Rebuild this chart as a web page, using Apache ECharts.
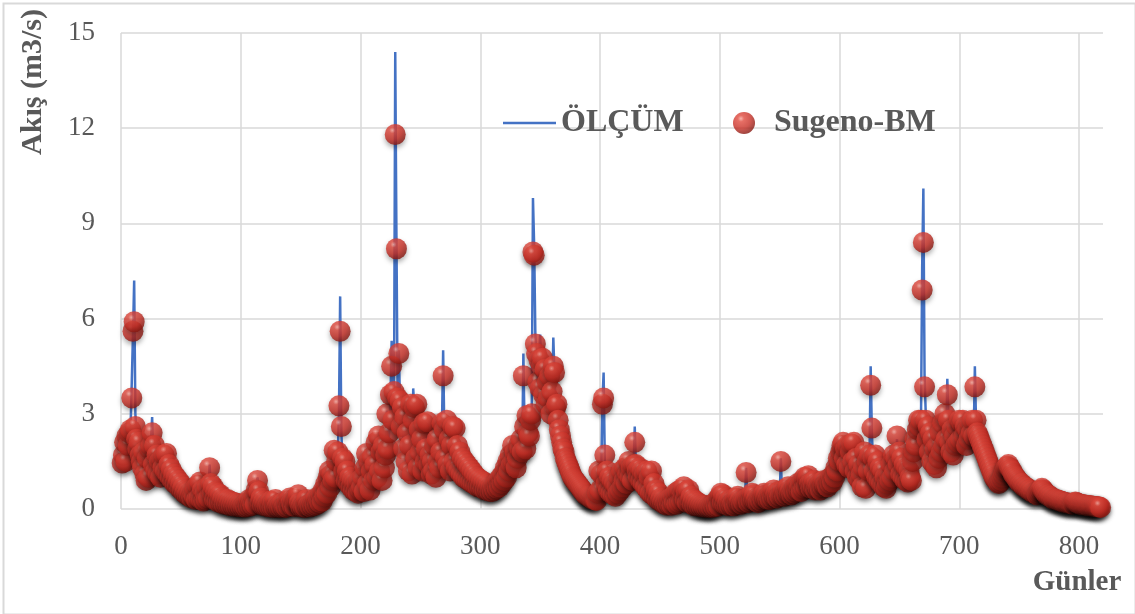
<!DOCTYPE html>
<html>
<head>
<meta charset="utf-8">
<title>Akış - ÖLÇÜM / Sugeno-BM</title>
<script src="https://cdn.jsdelivr.net/npm/echarts@6/dist/echarts.min.js"></script>
<style>
  html, body { margin: 0; padding: 0; background: #ffffff; }
  #chart { width: 1135px; height: 614px; }
</style>
</head>
<body>
<div id="chart"></div>
<script>
// Daily flow (m3/s), day 1 .. 818
const seriesNames = ['ÖLÇÜM', 'Sugeno-BM'];
const xTicks = [0, 100, 200, 300, 400, 500, 600, 700, 800];
const yTicks = [0, 3, 6, 9, 12, 15];

// Measured flow
const olcum = [
  1.5, 1.6, 2.2, 1.6, 2.2, 2.1, 2.3, 2.6, 4.0, 5.5, 7.2, 3.0, 2.3, 1.8, 2.0, 1.8, 1.4, 1.4, 1.7, 1.2,
  1.0, 1.5, 1.1, 1.8, 2.1, 2.9, 1.5, 1.9, 1.3, 1.6, 1.2, 1.4, 1.1, 1.5, 1.3, 1.6, 1.2, 1.7, 1.1, 1.3,
  1.0, 1.2, 0.9, 1.0, 0.85, 0.95, 0.75, 0.85, 0.65, 0.75, 0.6, 0.65, 0.5, 0.55, 0.45, 0.5, 0.4, 0.45, 0.35, 0.45,
  0.4, 0.6, 0.3, 0.7, 0.35, 0.8, 0.3, 0.55, 0.25, 0.45, 0.3, 0.65, 0.4, 1.4, 0.7, 0.45, 0.65, 0.3, 0.5, 0.25,
  0.45, 0.2, 0.4, 0.2, 0.3, 0.15, 0.28, 0.15, 0.27, 0.12, 0.22, 0.1, 0.2, 0.1, 0.18, 0.08, 0.16, 0.08, 0.14, 0.07,
  0.14, 0.07, 0.11, 0.06, 0.18, 0.08, 0.28, 0.1, 0.22, 0.12, 0.38, 0.15, 0.65, 1.0, 0.5, 0.2, 0.32, 0.12, 0.22, 0.1,
  0.18, 0.08, 0.14, 0.07, 0.22, 0.06, 0.18, 0.05, 0.28, 0.07, 0.14, 0.05, 0.11, 0.05, 0.18, 0.06, 0.1, 0.05, 0.22, 0.08,
  0.32, 0.2, 0.1, 0.28, 0.08, 0.22, 0.3, 0.5, 0.2, 0.07, 0.14, 0.06, 0.11, 0.05, 0.28, 0.1, 0.14, 0.07, 0.18, 0.1,
  0.22, 0.12, 0.32, 0.15, 0.28, 0.2, 0.42, 0.25, 0.55, 0.4, 0.75, 0.5, 0.95, 1.25, 0.7, 1.0, 0.9, 1.9, 1.0, 1.4,
  1.7, 3.0, 6.7, 2.4, 1.5, 1.2, 1.4, 0.9, 1.1, 0.8, 0.95, 0.7, 0.85, 0.6, 0.8, 0.55, 0.75, 0.5, 0.85, 0.6,
  0.7, 0.95, 0.55, 1.25, 1.8, 0.8, 1.45, 0.6, 1.15, 1.7, 0.9, 1.35, 2.2, 1.0, 2.4, 1.2, 1.7, 0.9, 2.1, 1.3,
  1.6, 3.1, 1.8, 2.5, 3.5, 5.3, 2.7, 3.6, 14.4, 8.6, 3.4, 5.0, 3.3, 2.5, 3.1, 1.8, 2.8, 1.5, 2.3, 1.2,
  1.9, 3.2, 1.1, 3.8, 3.1, 1.6, 3.2, 1.3, 2.4, 1.8, 2.1, 1.2, 2.6, 1.5, 1.8, 2.7, 1.4, 1.6, 1.1, 1.4,
  1.2, 1.9, 1.0, 2.1, 1.5, 1.3, 1.7, 2.6, 5.0, 2.4, 1.6, 2.7, 1.4, 2.1, 1.2, 1.9, 2.5, 1.5, 2.5, 1.3,
  1.9, 1.2, 1.7, 1.1, 1.55, 1.0, 1.45, 0.95, 1.35, 0.9, 1.25, 0.85, 1.15, 0.8, 1.05, 0.75, 0.95, 0.7, 0.9, 0.7,
  0.85, 0.65, 0.8, 0.6, 0.75, 0.6, 0.7, 0.55, 0.65, 0.55, 0.7, 0.6, 0.75, 0.65, 0.85, 0.7, 0.95, 0.8, 1.05, 0.9,
  1.25, 1.0, 1.45, 1.2, 1.65, 1.4, 1.9, 1.5, 1.75, 1.3, 1.55, 1.9, 1.85, 2.1, 1.7, 4.9, 2.5, 1.8, 2.9, 2.3,
  2.2, 2.7, 3.1, 9.8, 8.3, 5.5, 4.8, 3.9, 4.6, 5.5, 4.4, 4.6, 3.5, 4.3, 3.2, 3.9, 3.4, 4.1, 2.9, 3.6,
  5.4, 4.2, 3.1, 3.2, 2.7, 2.4, 2.2, 2.0, 1.85, 1.75, 1.55, 1.45, 1.35, 1.25, 1.15, 1.05, 0.95, 0.9, 0.85, 0.8,
  0.75, 0.7, 0.65, 0.6, 0.55, 0.5, 0.47, 0.43, 0.4, 0.38, 0.36, 0.34, 0.32, 0.3, 0.29, 0.27, 0.26, 0.45, 1.1, 0.55,
  1.0, 3.4, 4.3, 1.5, 0.75, 1.1, 0.6, 0.95, 0.5, 0.85, 0.45, 0.75, 0.4, 0.65, 0.5, 0.95, 0.6, 1.1, 0.7, 0.85,
  1.2, 0.8, 1.05, 1.4, 1.0, 1.25, 0.9, 1.35, 2.6, 1.3, 1.15, 1.0, 1.25, 0.9, 1.15, 0.8, 1.05, 0.7, 1.1, 0.6,
  0.95, 0.5, 1.1, 0.45, 0.75, 0.4, 0.55, 0.3, 0.45, 0.25, 0.32, 0.2, 0.28, 0.15, 0.22, 0.12, 0.28, 0.15, 0.32, 0.12,
  0.38, 0.2, 0.45, 0.15, 0.5, 0.2, 0.55, 0.25, 0.45, 0.75, 0.3, 0.5, 0.2, 0.55, 0.25, 0.38, 0.15, 0.28, 0.1, 0.22,
  0.1, 0.18, 0.08, 0.14, 0.07, 0.11, 0.06, 0.09, 0.05, 0.09, 0.05, 0.07, 0.05, 0.11, 0.06, 0.18, 0.08, 0.28, 0.1, 0.38,
  0.55, 0.2, 0.42, 0.15, 0.32, 0.12, 0.22, 0.1, 0.28, 0.12, 0.18, 0.1, 0.32, 0.15, 0.38, 0.2, 0.28, 0.15, 0.22, 0.2,
  0.28, 1.3, 0.32, 0.2, 0.38, 0.25, 0.45, 0.3, 0.42, 0.25, 0.32, 0.2, 0.28, 0.25, 0.38, 0.3, 0.45, 0.35, 0.42, 0.3,
  0.38, 0.3, 0.45, 0.35, 0.55, 0.4, 0.45, 0.35, 0.5, 0.4, 1.6, 0.45, 0.55, 0.4, 0.5, 0.45, 0.65, 0.5, 0.55, 0.45,
  0.5, 0.5, 0.65, 0.55, 0.75, 0.6, 0.7, 0.55, 0.85, 0.65, 0.95, 0.7, 0.9, 1.0, 0.8, 0.65, 0.8, 0.7, 0.85, 0.6,
  0.75, 0.65, 0.7, 0.6, 0.8, 0.7, 0.85, 0.75, 0.8, 0.7, 0.9, 0.8, 0.95, 0.85, 1.05, 1.0, 1.25, 1.2, 1.5, 1.45,
  1.7, 1.9, 2.0, 1.55, 1.8, 1.4, 1.9, 1.3, 1.7, 1.95, 1.45, 2.0, 1.2, 1.55, 1.0, 1.35, 0.9, 1.05, 0.7, 1.25,
  1.7, 0.65, 1.45, 1.2, 1.6, 4.5, 2.4, 1.5, 1.2, 1.6, 1.0, 1.45, 0.9, 1.25, 0.8, 1.15, 0.7, 0.95, 0.65, 0.8,
  1.05, 0.9, 1.35, 1.0, 1.6, 1.2, 1.55, 2.2, 1.35, 1.7, 1.1, 1.5, 1.0, 1.35, 0.9, 1.25, 0.85, 1.15, 1.0, 0.9,
  1.45, 1.7, 2.1, 1.95, 2.4, 2.7, 2.5, 2.7, 7.6, 10.1, 4.2, 3.0, 2.1, 2.5, 1.75, 2.3, 1.5, 2.1, 1.4, 1.85,
  1.3, 1.9, 1.55, 2.3, 1.75, 2.6, 1.95, 2.9, 2.1, 4.1, 2.7, 2.0, 1.75, 2.4, 1.65, 2.2, 1.95, 2.5, 2.05, 2.7,
  2.1, 2.6, 2.7, 2.2, 2.5, 1.95, 2.4, 2.1, 2.6, 2.3, 2.7, 2.2, 4.5, 2.7, 2.3, 2.2, 2.1, 2.0, 1.9, 1.8,
  1.7, 1.6, 1.5, 1.4, 1.3, 1.2, 1.15, 1.05, 0.95, 0.9, 0.85, 0.8, 0.78, 0.8, 0.85, 0.95, 1.05, 1.15, 1.25, 1.3,
  1.35, 1.25, 1.2, 1.15, 1.05, 1.0, 0.95, 0.9, 0.85, 0.8, 0.78, 0.75, 0.7, 0.68, 0.65, 0.62, 0.6, 0.58, 0.55, 0.53,
  0.52, 0.5, 0.48, 0.47, 0.45, 0.48, 0.52, 0.56, 0.6, 0.57, 0.52, 0.48, 0.45, 0.42, 0.4, 0.38, 0.35, 0.33, 0.3, 0.29,
  0.28, 0.27, 0.26, 0.25, 0.24, 0.22, 0.21, 0.2, 0.19, 0.19, 0.18, 0.17, 0.16, 0.15, 0.15, 0.19, 0.21, 0.19, 0.17, 0.15,
  0.14, 0.13, 0.13, 0.12, 0.12, 0.11, 0.1, 0.1, 0.09, 0.09, 0.09, 0.08, 0.08, 0.07, 0.07, 0.06, 0.06, 0.05
];

// Sugeno-BM model output
const sugenoBM = [
  1.45, 1.7, 2.1, 1.5, 2.3, 2.0, 2.4, 2.5, 3.5, 5.6, 5.9, 2.6, 2.2, 1.9, 2.1, 1.7, 1.5, 1.3, 1.8, 1.1,
  0.9, 1.6, 1.0, 1.9, 2.0, 2.4, 1.4, 2.0, 1.2, 1.7, 1.1, 1.5, 1.0, 1.6, 1.3, 1.7, 1.2, 1.75, 1.1, 1.4,
  1.0, 1.25, 0.9, 1.1, 0.8, 1.0, 0.75, 0.9, 0.65, 0.8, 0.6, 0.7, 0.5, 0.6, 0.45, 0.55, 0.4, 0.5, 0.35, 0.5,
  0.4, 0.65, 0.3, 0.75, 0.35, 0.85, 0.3, 0.6, 0.25, 0.5, 0.3, 0.7, 0.35, 1.3, 0.8, 0.5, 0.7, 0.3, 0.55, 0.25,
  0.5, 0.2, 0.45, 0.2, 0.35, 0.15, 0.3, 0.15, 0.3, 0.12, 0.25, 0.1, 0.22, 0.1, 0.2, 0.08, 0.18, 0.08, 0.15, 0.07,
  0.15, 0.07, 0.12, 0.06, 0.2, 0.08, 0.3, 0.1, 0.25, 0.12, 0.4, 0.15, 0.6, 0.9, 0.55, 0.2, 0.35, 0.12, 0.25, 0.1,
  0.2, 0.08, 0.15, 0.07, 0.25, 0.06, 0.2, 0.05, 0.3, 0.07, 0.15, 0.05, 0.12, 0.05, 0.2, 0.06, 0.1, 0.05, 0.25, 0.08,
  0.35, 0.2, 0.1, 0.3, 0.08, 0.25, 0.3, 0.45, 0.2, 0.07, 0.15, 0.06, 0.12, 0.05, 0.3, 0.1, 0.15, 0.07, 0.2, 0.1,
  0.25, 0.12, 0.35, 0.15, 0.3, 0.2, 0.45, 0.25, 0.6, 0.4, 0.8, 0.5, 1.0, 1.2, 0.7, 1.1, 0.9, 1.85, 1.0, 1.5,
  1.8, 3.25, 5.6, 2.6, 1.6, 1.2, 1.5, 0.9, 1.2, 0.8, 1.0, 0.7, 0.9, 0.6, 0.85, 0.55, 0.8, 0.5, 0.9, 0.6,
  0.7, 1.0, 0.55, 1.3, 1.75, 0.8, 1.5, 0.6, 1.2, 1.65, 0.9, 1.4, 2.1, 1.0, 2.3, 1.2, 1.8, 0.9, 2.0, 1.3,
  1.7, 3.0, 1.9, 2.4, 3.6, 4.5, 2.8, 3.7, 11.8, 8.2, 3.5, 4.9, 3.4, 2.6, 3.2, 1.9, 2.9, 1.5, 2.4, 1.2,
  2.0, 3.3, 1.1, 2.8, 3.2, 1.6, 3.3, 1.3, 2.5, 1.8, 2.2, 1.2, 2.7, 1.5, 1.9, 2.75, 1.4, 1.7, 1.1, 1.5,
  1.2, 2.0, 1.0, 2.2, 1.5, 1.3, 1.8, 2.7, 4.2, 2.5, 1.6, 2.8, 1.4, 2.2, 1.2, 2.0, 2.6, 1.5, 2.55, 1.3,
  2.0, 1.2, 1.8, 1.1, 1.6, 1.0, 1.5, 0.95, 1.4, 0.9, 1.3, 0.85, 1.2, 0.8, 1.1, 0.75, 1.0, 0.7, 0.95, 0.7,
  0.9, 0.65, 0.85, 0.6, 0.8, 0.6, 0.75, 0.55, 0.7, 0.55, 0.7, 0.6, 0.8, 0.65, 0.9, 0.7, 1.0, 0.8, 1.1, 0.9,
  1.3, 1.0, 1.5, 1.2, 1.7, 1.4, 2.0, 1.5, 1.8, 1.3, 1.6, 2.0, 1.9, 2.2, 1.8, 4.2, 2.6, 1.9, 2.95, 2.4,
  2.3, 2.8, 3.0, 8.1, 8.0, 5.2, 4.9, 4.0, 4.7, 3.8, 4.5, 4.75, 3.6, 4.4, 3.3, 4.0, 3.5, 4.2, 3.0, 3.7,
  4.5, 4.3, 3.2, 3.3, 2.8, 2.5, 2.3, 2.1, 1.9, 1.8, 1.6, 1.5, 1.4, 1.3, 1.2, 1.1, 1.0, 0.95, 0.9, 0.85,
  0.8, 0.75, 0.7, 0.65, 0.6, 0.55, 0.5, 0.45, 0.42, 0.4, 0.38, 0.35, 0.33, 0.3, 0.3, 0.28, 0.27, 0.5, 1.2, 0.6,
  1.1, 3.3, 3.5, 1.7, 0.8, 1.2, 0.6, 1.0, 0.5, 0.9, 0.45, 0.8, 0.4, 0.7, 0.5, 1.0, 0.6, 1.2, 0.7, 0.9,
  1.3, 0.8, 1.1, 1.5, 1.0, 1.3, 0.9, 1.4, 2.1, 1.4, 1.2, 1.0, 1.3, 0.9, 1.2, 0.8, 1.1, 0.7, 1.2, 0.6,
  1.0, 0.5, 1.2, 0.45, 0.8, 0.4, 0.6, 0.3, 0.5, 0.25, 0.35, 0.2, 0.3, 0.15, 0.25, 0.12, 0.3, 0.15, 0.35, 0.12,
  0.4, 0.2, 0.5, 0.15, 0.55, 0.2, 0.6, 0.25, 0.5, 0.7, 0.3, 0.55, 0.2, 0.6, 0.25, 0.4, 0.15, 0.3, 0.1, 0.25,
  0.1, 0.2, 0.08, 0.15, 0.07, 0.12, 0.06, 0.1, 0.05, 0.1, 0.05, 0.08, 0.05, 0.12, 0.06, 0.2, 0.08, 0.3, 0.1, 0.4,
  0.5, 0.2, 0.45, 0.15, 0.35, 0.12, 0.25, 0.1, 0.3, 0.12, 0.2, 0.1, 0.35, 0.15, 0.4, 0.2, 0.3, 0.15, 0.25, 0.2,
  0.3, 1.15, 0.35, 0.2, 0.4, 0.25, 0.5, 0.3, 0.45, 0.25, 0.35, 0.2, 0.3, 0.25, 0.4, 0.3, 0.5, 0.35, 0.45, 0.3,
  0.4, 0.3, 0.5, 0.35, 0.6, 0.4, 0.5, 0.35, 0.55, 0.4, 1.5, 0.45, 0.6, 0.4, 0.55, 0.45, 0.7, 0.5, 0.6, 0.45,
  0.55, 0.5, 0.7, 0.55, 0.8, 0.6, 0.75, 0.55, 0.9, 0.65, 1.0, 0.7, 0.95, 1.05, 0.8, 0.65, 0.85, 0.7, 0.9, 0.6,
  0.8, 0.65, 0.75, 0.6, 0.85, 0.7, 0.9, 0.75, 0.8, 0.7, 0.95, 0.8, 1.0, 0.85, 1.1, 1.0, 1.3, 1.2, 1.6, 1.5,
  1.8, 2.0, 2.1, 1.6, 1.9, 1.4, 2.0, 1.3, 1.8, 2.05, 1.5, 2.1, 1.2, 1.6, 1.0, 1.4, 0.9, 1.1, 0.7, 1.3,
  1.8, 0.65, 1.5, 1.2, 1.7, 3.9, 2.55, 1.6, 1.2, 1.7, 1.0, 1.5, 0.9, 1.3, 0.8, 1.2, 0.7, 1.0, 0.65, 0.8,
  1.1, 0.9, 1.4, 1.0, 1.7, 1.2, 1.6, 2.3, 1.4, 1.8, 1.1, 1.6, 1.0, 1.4, 0.9, 1.3, 0.85, 1.2, 1.0, 0.9,
  1.5, 1.8, 2.2, 2.0, 2.5, 2.8, 2.6, 2.8, 6.9, 8.4, 3.85, 2.8, 2.2, 2.6, 1.8, 2.4, 1.5, 2.2, 1.4, 1.9,
  1.3, 2.0, 1.6, 2.4, 1.8, 2.7, 2.0, 3.0, 2.2, 3.6, 2.8, 2.1, 1.8, 2.5, 1.7, 2.3, 2.0, 2.6, 2.1, 2.8,
  2.2, 2.7, 2.8, 2.3, 2.6, 2.0, 2.5, 2.2, 2.7, 2.4, 2.8, 2.3, 3.85, 2.8, 2.4, 2.3, 2.2, 2.1, 2.0, 1.9,
  1.8, 1.7, 1.6, 1.5, 1.4, 1.3, 1.2, 1.1, 1.0, 0.95, 0.9, 0.85, 0.8, 0.85, 0.9, 1.0, 1.1, 1.2, 1.3, 1.35,
  1.4, 1.3, 1.25, 1.2, 1.1, 1.05, 1.0, 0.95, 0.9, 0.85, 0.8, 0.8, 0.75, 0.7, 0.7, 0.65, 0.65, 0.6, 0.6, 0.55,
  0.55, 0.5, 0.5, 0.5, 0.45, 0.5, 0.55, 0.6, 0.65, 0.6, 0.55, 0.5, 0.45, 0.45, 0.4, 0.4, 0.35, 0.35, 0.3, 0.3,
  0.3, 0.28, 0.27, 0.25, 0.25, 0.23, 0.22, 0.2, 0.2, 0.2, 0.18, 0.18, 0.17, 0.16, 0.15, 0.2, 0.22, 0.2, 0.18, 0.16,
  0.15, 0.14, 0.13, 0.13, 0.12, 0.12, 0.11, 0.1, 0.1, 0.1, 0.09, 0.09, 0.08, 0.08, 0.07, 0.07, 0.06, 0.05
];

const days = olcum.map((_, i) => i + 1);
const lineData = days.map((d, i) => [d, olcum[i]]);
const dotData = days.map((d, i) => [d, sugenoBM[i]]);

const textColor = '#595959';
const gridColor = '#d9d9d9';
const lineBlue = '#4472c4';
const serif = '"Liberation Serif", "Times New Roman", serif';
const legendText = { fontFamily: serif, fontSize: 32, fontWeight: 'bold', color: textColor };

const sphere = {
  type: 'radial', x: 0.36, y: 0.3, r: 0.72,
  colorStops: [
    { offset: 0, color: '#f7a399' },
    { offset: 0.2, color: '#e04a3e' },
    { offset: 0.62, color: '#c62f26' },
    { offset: 1, color: '#861710' }
  ]
};

const chart = echarts.init(document.getElementById('chart'), null, { renderer: 'canvas' });

chart.setOption({
  animation: false,
  backgroundColor: '#ffffff',
  grid: { left: 121, right: 32, top: 33, bottom: 105 },
  legend: [
    {
      data: [seriesNames[0]],
      left: 503,
      top: 107,
      padding: 0,
      icon: 'rect',
      itemWidth: 53,
      itemHeight: 2.5,
      selectedMode: false,
      textStyle: legendText
    },
    {
      data: [seriesNames[1]],
      left: 733,
      top: 107,
      padding: 0,
      icon: 'circle',
      itemWidth: 22,
      itemHeight: 22,
      selectedMode: false,
      textStyle: Object.assign({ padding: [0, 0, 0, 14] }, legendText)
    }
  ],
  xAxis: {
    type: 'value',
    min: xTicks[0],
    max: 820,
    interval: xTicks[1] - xTicks[0],
    axisLine: { show: false },
    axisTick: { show: false },
    axisLabel: {
      fontFamily: serif, fontSize: 27, color: textColor, margin: 24,
      showMaxLabel: false
    },
    splitLine: {
      show: true, showMaxLine: false,
      lineStyle: { color: gridColor, width: 1.5 }
    }
  },
  yAxis: {
    type: 'value',
    min: yTicks[0],
    max: yTicks[yTicks.length - 1],
    interval: yTicks[1] - yTicks[0],
    axisLine: { show: false },
    axisTick: { show: false },
    axisLabel: { fontFamily: serif, fontSize: 27, color: textColor, margin: 26 },
    splitLine: { show: true, lineStyle: { color: gridColor, width: 1.5 } }
  },
  series: [
    {
      name: seriesNames[0],
      type: 'line',
      z: 2,
      data: lineData,
      symbol: 'none',
      lineStyle: { color: lineBlue, width: 2.5 },
      itemStyle: { color: lineBlue },
      emphasis: { disabled: true }
    },
    {
      name: seriesNames[1],
      type: 'scatter',
      z: 3,
      data: dotData,
      symbol: 'circle',
      symbolSize: 21,
      large: false,
      itemStyle: {
        color: sphere,
        shadowColor: 'rgba(0,0,0,0.4)',
        shadowBlur: 5,
        shadowOffsetY: 3
      },
      emphasis: { disabled: true }
    }
  ],
  graphic: [
    {
      type: 'rect',
      left: 1, top: 1,
      shape: { width: 1132, height: 611 },
      style: { fill: 'none', stroke: gridColor, lineWidth: 2 },
      silent: true
    },
    {
      type: 'text',
      x: 33, y: 82,
      rotation: Math.PI / 2,
      style: {
        text: 'Akış (m3/s)',
        x: 0, y: 0,
        align: 'center', verticalAlign: 'middle',
        font: 'bold 30px ' + serif,
        fill: textColor
      },
      silent: true
    },
    {
      type: 'text',
      x: 1077, y: 583,
      style: {
        text: 'Günler',
        x: 0, y: 0,
        align: 'center', verticalAlign: 'middle',
        font: 'bold 29px ' + serif,
        fill: textColor
      },
      silent: true
    }
  ]
});
</script>
</body>
</html>
